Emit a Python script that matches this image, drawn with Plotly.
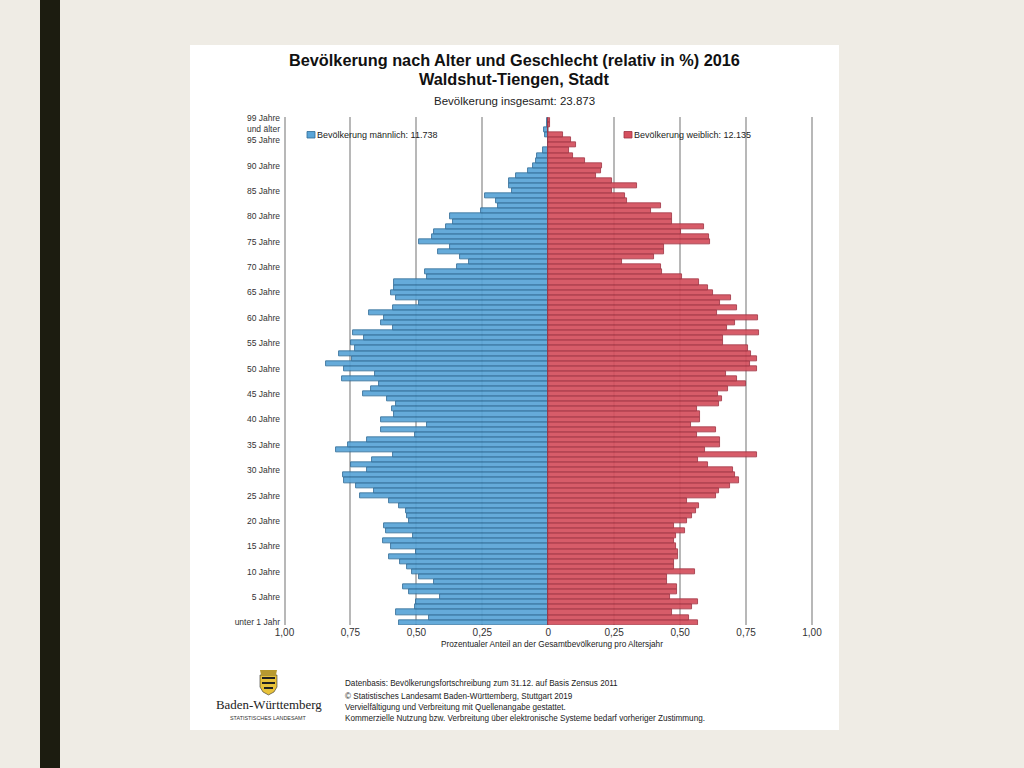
import plotly.graph_objects as go

ages = list(range(100))

# values listed from age 0 (unter 1 Jahr) up to age 99
male = [.566,.451,.578,.506,.503,.409,.528,.552,.434,.489,
        .518,.535,.561,.604,.503,.598,.628,.514,.615,.624,
        .529,.535,.54,.566,.604,.712,.662,.729,.775,.779,
        .686,.749,.667,.59,.803,.759,.687,.506,.633,.46,
        .636,.583,.593,.577,.61,.703,.673,.643,.783,.658,
        .775,.841,.746,.795,.734,.749,.70,.741,.59,.636,
        .621,.678,.59,.491,.578,.598,.586,.586,.46,.468,
        .347,.299,.333,.419,.371,.489,.439,.434,.389,.362,
        .371,.254,.192,.198,.241,.139,.15,.15,.124,.078,
        .059,.048,.043,.02,0,0,.011,.015,.004,.004]
female = [.568,.535,.47,.545,.568,.46,.489,.489,.449,.449,
          .557,.476,.476,.492,.492,.485,.477,.485,.519,.477,
          .527,.545,.561,.573,.527,.636,.648,.69,.723,.708,
          .70,.606,.568,.79,.593,.652,.652,.564,.636,.54,
          .577,.577,.564,.648,.658,.645,.681,.75,.716,.673,
          .79,.765,.79,.769,.758,.664,.664,.799,.679,.707,
          .795,.641,.716,.652,.694,.624,.604,.573,.508,.43,
          .427,.279,.40,.438,.438,.615,.61,.503,.59,.468,
          .468,.389,.427,.299,.292,.241,.337,.241,.182,.2,
          .203,.14,.095,.077,.106,.086,.056,0,.007,.007]

y_tick_vals = [0,5,10,15,20,25,30,35,40,45,50,55,60,65,70,75,80,85,90,95,98.2]
y_tick_text = ["unter 1 Jahr","5 Jahre","10 Jahre","15 Jahre","20 Jahre","25 Jahre","30 Jahre",
               "35 Jahre","40 Jahre","45 Jahre","50 Jahre","55 Jahre","60 Jahre","65 Jahre",
               "70 Jahre","75 Jahre","80 Jahre","85 Jahre","90 Jahre","95 Jahre","99 Jahre<br>und älter"]
x_tick_vals = [-1,-.75,-.5,-.25,0,.25,.5,.75,1]
x_tick_text = ["1,00","0,75","0,50","0,25","0","0,25","0,50","0,75","1,00"]

BLUE, BLUE_LINE = "#5AA5D8", "#2F6B96"
RED, RED_LINE = "#D5505E", "#A03242"

W, H = 1024, 768
def px(v): return v / W
def py(v): return 1 - v / H

fig = go.Figure()
fig.add_bar(y=ages, x=[-v for v in male], orientation="h", name="Bevölkerung männlich: 11.738",
            marker=dict(color=BLUE, line=dict(color=BLUE_LINE, width=0.9), opacity=0.93))
fig.add_bar(y=ages, x=female, orientation="h", name="Bevölkerung weiblich: 12.135",
            marker=dict(color=RED, line=dict(color=RED_LINE, width=0.9), opacity=0.93))

def prect(x0, x1, y0, y1, fill, line=None, layer="above"):
    d = dict(type="rect", xref="paper", yref="paper", x0=px(x0), x1=px(x1), y0=py(y1), y1=py(y0),
             fillcolor=fill, layer=layer)
    d["line"] = dict(color=line, width=0.8) if line else dict(width=0)
    return d

shapes = [
    prect(40, 60, 0, 768, "#1C1C10", layer="below"),
    prect(190, 839, 45, 730, "#FFFFFF", layer="below"),
    prect(307, 315, 131.5, 138, BLUE, BLUE_LINE),
    prect(624, 632, 131.5, 138, RED, RED_LINE),
]
# coat of arms
def P(pts):
    return "M" + " L".join(f"{px(a):.4f},{py(b):.4f}" for a, b in pts) + " Z"
shapes += [
    dict(type="path", xref="paper", yref="paper", line=dict(color="#333", width=0.6), fillcolor="#E8C23A",
         path=P([(260,675),(277,675),(277,687),(274,692),(268.5,695),(263,692),(260,687)])),
    dict(type="path", xref="paper", yref="paper", line_width=0, fillcolor="#B89A30",
         path=P([(260,670),(277,670),(276,675),(261,675)])),
    prect(262, 275, 677, 679, "#222"),
    prect(262, 275, 682, 684, "#222"),
    prect(264, 273, 687, 689, "#222"),
]

def note(text, x, y, size, color="#222", anchor="left", family="Liberation Sans"):
    return dict(text=text, xref="paper", yref="paper", x=px(x), y=py(y), xanchor=anchor, yanchor="middle",
                showarrow=False, font=dict(size=size, color=color, family=family))

annotations = [
    note("<b>Bevölkerung nach Alter und Geschlecht (relativ in %) 2016</b>", 514.5, 60, 16.3, "#111", "center"),
    note("<b>Waldshut-Tiengen, Stadt</b>", 514.5, 79, 16.3, "#111", "center"),
    note("Bevölkerung insgesamt: 23.873", 514.5, 101, 11.5, "#222", "center"),
    note("Bevölkerung männlich: 11.738", 315, 134.5, 9),
    note("Bevölkerung weiblich: 12.135", 632, 134.5, 9),
    note("Prozentualer Anteil an der Gesamtbevölkerung pro Altersjahr", 551.5, 644.5, 8.25, "#222", "center"),
    note("Datenbasis: Bevölkerungsfortschreibung zum 31.12. auf Basis Zensus 2011", 343, 683.5, 8.15),
    note("© Statistisches Landesamt Baden-Württemberg, Stuttgart 2019", 343, 696.5, 8.15),
    note("Vervielfältigung und Verbreitung mit Quellenangabe gestattet.", 343, 707.5, 8.15),
    note("Kommerzielle Nutzung bzw. Verbreitung über elektronische Systeme bedarf vorheriger Zustimmung.", 343, 718.5, 8.15),
    note("Baden-Württemberg", 268.5, 704.5, 12.9, "#222", "center", "Liberation Serif"),
    note("STATISTISCHES LANDESAMT", 268.5, 718, 5.4, "#333", "center"),
]

fig.update_layout(
    width=W, height=H, autosize=False,
    margin=dict(l=0, r=0, t=0, b=0, autoexpand=False),
    paper_bgcolor="#EFECE5", plot_bgcolor="rgba(0,0,0,0)",
    barmode="overlay", bargap=0,
    font=dict(family="Liberation Sans", color="#333"),
    shapes=shapes, annotations=annotations,
    showlegend=False,
    xaxis=dict(domain=[px(282), px(814.5)], range=[-1.0095, 1.0095], tickvals=x_tick_vals, ticktext=x_tick_text,
               showgrid=True, gridcolor="#B8B8B8", gridwidth=1.6, zeroline=False, showline=False, ticks="",
               tickfont=dict(size=10, color="#333")),
    yaxis=dict(domain=[py(625), py(117.3)], range=[-0.5, 99.5], tickvals=y_tick_vals, ticktext=y_tick_text,
               showgrid=False, zeroline=False, showline=False, ticks="", ticklabelstandoff=1,
               tickfont=dict(size=8.5, color="#333")),
)

fig.write_html("out.html", post_script="document.body.style.margin='0';",
               config=dict(displayModeBar=False))
